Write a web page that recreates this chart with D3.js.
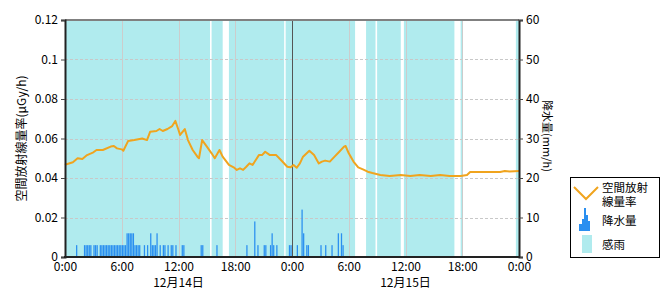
<!DOCTYPE html>
<html>
<head>
<meta charset="utf-8">
<script src="https://cdn.jsdelivr.net/npm/d3@7"></script>
<style>
  body { margin: 0; background: #fff; }
  svg text { font-family: "Noto Sans CJK JP", "DejaVu Sans", sans-serif; font-size: 12px; fill: #000; }
</style>
</head>
<body>
<div id="chart"></div>
<script>
// dose rate: minutes from 12/14 0:00, μGy/h
const doseTimes = [0, 10, 50, 80, 110, 140, 180, 200, 240, 290, 310, 330, 360, 370, 400, 440, 490, 520,
  540, 580, 600, 620, 650, 680, 700, 720, 730, 760, 780, 810, 840, 850, 870, 900, 930, 950, 980,
  1000, 1040, 1070, 1090, 1110, 1130, 1150, 1170, 1190, 1230, 1250, 1270, 1300, 1340, 1370, 1410,
  1430, 1450, 1470, 1490, 1510, 1550, 1580, 1610, 1630, 1650, 1680, 1710, 1740, 1770, 1780, 1800,
  1830, 1860, 1890, 1920, 1950, 2000, 2060, 2130, 2190, 2250, 2320, 2380, 2440, 2510, 2550, 2570,
  2630, 2700, 2760, 2790, 2820, 2880];
const doseValues = [0.0466, 0.047, 0.048, 0.050, 0.0496, 0.0516, 0.053, 0.0542, 0.0542, 0.0559, 0.0562, 0.055, 0.0545, 0.0538, 0.0587, 0.0592, 0.060, 0.0592,
  0.0634, 0.0638, 0.0648, 0.0638, 0.0648, 0.0663, 0.0689, 0.0643, 0.0618, 0.0648, 0.0592, 0.0542, 0.0508, 0.050, 0.0592, 0.0559, 0.0525, 0.050, 0.0542,
  0.0508, 0.0466, 0.0454, 0.0441, 0.0449, 0.0441, 0.0457, 0.0474, 0.0466, 0.0516, 0.0516, 0.0533, 0.0516, 0.0516, 0.0491, 0.0457,
  0.0454, 0.0466, 0.0452, 0.0474, 0.0508, 0.0538, 0.0516, 0.0474, 0.0483, 0.0488, 0.0483, 0.0508, 0.0533, 0.0559, 0.0562, 0.0525,
  0.0483, 0.0454, 0.0444, 0.0432, 0.0425, 0.0415, 0.041, 0.0415, 0.041, 0.0415, 0.041, 0.0415, 0.041, 0.041, 0.0415, 0.043,
  0.043, 0.043, 0.043, 0.0435, 0.0433, 0.0435];

// precipitation: 10-minute slot index from 12/14 0:00, mm/h
const rainSlots = [7, 12, 13, 14, 15, 16, 18, 19, 20, 22, 23, 24, 25, 26, 27, 28, 29, 30, 31, 32, 33, 34, 35, 36,
  37, 38, 39, 40, 41, 42, 43, 44, 45, 46, 47, 50, 52, 54, 55, 56, 57, 58, 60, 62, 63, 65, 67, 68, 70, 74, 75,
  86, 87, 96, 115, 120, 122, 126, 127, 130, 131, 132, 134, 142, 143, 147, 150, 151, 153, 154,
  162, 165, 169, 173, 175, 176];
const rainValues = [3, 3, 3, 3, 3, 3, 3, 3, 3, 3, 3, 3, 3, 3, 3, 3, 3, 3, 3, 3, 3, 3, 3, 3,
  3, 3, 6, 6, 6, 6, 6, 3, 3, 3, 3, 3, 3, 6, 3, 3, 3, 6, 3, 3, 3, 3, 3, 3, 3, 3, 3,
  3, 3, 3, 3, 9, 3, 3, 3, 3, 6, 3, 3, 3, 3, 3, 12, 6, 3, 3,
  3, 3, 3, 6, 6, 3];

// rain sensor on: [start, end] in hours from 12/14 0:00
const senseStart = [0, 15.5, 17.33, 23.33, 31.83, 33.0, 35.83, 41.83, 47.67];
const senseEnd   = [15.33, 16.67, 23.17, 30.67, 32.83, 35.5, 41.17, 42.0, 48];

const xTickHours = [0, 6, 12, 18, 24, 30, 36, 42, 48];
const dateLabels = ["12月14日", "12月15日"];
const dateHours = [12, 36];
const leftTicks = [0, 0.02, 0.04, 0.06, 0.08, 0.1, 0.12];
const rightTicks = [0, 10, 20, 30, 40, 50, 60];

const W = 670, H = 300;
const plotL = 65, plotR = 519, plotT = 20, plotB = 257;

const svg = d3.select("#chart").append("svg")
    .attr("width", W)
    .attr("height", H);

const x = d3.scaleLinear().domain([0, 48]).range([plotL, plotR]);
const yL = d3.scaleLinear().domain([0, 0.12]).range([plotB, plotT]);
const yR = d3.scaleLinear().domain([0, 60]).range([plotB, plotT]);

const cyan = "#b0ebee";
const orange = "#f0a41e";
const blue = "#2a8ff0";

// sensing background
svg.append("g").selectAll("rect")
    .data(senseStart.map((s, i) => [s, senseEnd[i]]))
    .join("rect")
    .attr("x", d => x(d[0]))
    .attr("width", d => x(d[1]) - x(d[0]))
    .attr("y", plotT)
    .attr("height", plotB - plotT)
    .attr("fill", cyan);

// grid
svg.append("g").selectAll("line")
    .data(leftTicks.slice(1, -1))
    .join("line")
    .attr("x1", plotL).attr("x2", plotR)
    .attr("y1", d => Math.round(yL(d)) + 0.5).attr("y2", d => Math.round(yL(d)) + 0.5)
    .attr("stroke", "#c8c8c8")
    .attr("stroke-dasharray", "3,2");

svg.append("g").selectAll("line")
    .data(xTickHours.filter(h => h > 0 && h < 48 && h !== 24))
    .join("line")
    .attr("x1", d => Math.round(x(d)) + 0.5).attr("x2", d => Math.round(x(d)) + 0.5)
    .attr("y1", plotT).attr("y2", plotB)
    .attr("stroke", "#cccccc");

// day separator
svg.append("line")
    .attr("x1", Math.round(x(24)) + 0.5).attr("x2", Math.round(x(24)) + 0.5)
    .attr("y1", plotT).attr("y2", plotB)
    .attr("stroke", "#555");

// rain bars
const slotW = x(1 / 6) - x(0);
svg.append("g").selectAll("rect")
    .data(rainSlots.map((s, i) => [s, rainValues[i]]))
    .join("rect")
    .attr("x", d => x(d[0] / 6))
    .attr("width", slotW * 0.8)
    .attr("y", d => yR(d[1]))
    .attr("height", d => plotB - yR(d[1]))
    .attr("fill", blue);

// dose line
const line = d3.line()
    .x(d => x(d[0] / 60))
    .y(d => yL(d[1]));
svg.append("path")
    .datum(doseTimes.map((t, i) => [t, doseValues[i]]))
    .attr("d", line)
    .attr("fill", "none")
    .attr("stroke", orange)
    .attr("stroke-width", 2)
    .attr("stroke-linejoin", "round");

// frame
svg.append("line")
    .attr("x1", plotL).attr("x2", plotR).attr("y1", plotT).attr("y2", plotT)
    .attr("stroke", "#808080").attr("stroke-width", 2);

// axes
const axisL = svg.append("g")
    .attr("transform", `translate(${plotL},0)`)
    .call(d3.axisLeft(yL).tickValues(leftTicks).tickFormat(d => d === 0 ? "0" : String(d)).tickSize(4).tickPadding(3));
const axisR = svg.append("g")
    .attr("transform", `translate(${plotR},0)`)
    .call(d3.axisRight(yR).tickValues(rightTicks).tickSize(4).tickPadding(3));
const axisB = svg.append("g")
    .attr("transform", `translate(0,${plotB})`)
    .call(d3.axisBottom(x).tickValues(xTickHours).tickFormat(h => (h % 24) + ":00").tickSize(0).tickPadding(5));

[axisL, axisR, axisB].forEach(a => {
    a.select(".domain").attr("stroke", "#222").attr("stroke-width", 2);
    a.selectAll(".tick line").attr("stroke", "#444");
    a.selectAll("text").attr("fill", "#000").style("font-size", "12px");
});
axisB.select(".domain").attr("d", `M${plotL - 1},0H${plotR + 1}`);

svg.append("g").selectAll("text")
    .data(dateLabels)
    .join("text")
    .attr("x", (d, i) => x(dateHours[i]))
    .attr("y", 287)
    .attr("text-anchor", "middle")
    .text(d => d);

// axis titles
svg.append("text")
    .attr("transform", `translate(26,${(plotT + plotB) / 2}) rotate(-90)`)
    .attr("text-anchor", "middle")
    .text("空間放射線量率(μGy/h)");
svg.append("text")
    .attr("transform", `translate(543,${136}) rotate(90)`)
    .attr("text-anchor", "middle")
    .style("font-size", "11px")
    .text("降水量(mm/h)");

// legend
const lg = svg.append("g").attr("transform", "translate(570,177)");
lg.append("rect")
    .attr("x", 0.5).attr("y", 0.5).attr("width", 89).attr("height", 80)
    .attr("fill", "#fff").attr("stroke", "#000");
lg.append("path")
    .attr("d", "M4,10 L16,22 L28,10")
    .attr("fill", "none").attr("stroke", orange).attr("stroke-width", 2);
lg.append("text").attr("x", 32).attr("y", 15).style("font-size", "11.5px").text("空間放射");
lg.append("text").attr("x", 32).attr("y", 29).style("font-size", "11.5px").text("線量率");
lg.append("path")
    .attr("d", "M9,54 V47 H12 V42 H14 V31 H16 V38 H18 V44 H20 V54 Z")
    .attr("fill", blue);
lg.append("text").attr("x", 32).attr("y", 48).style("font-size", "11.5px").text("降水量");
lg.append("rect")
    .attr("x", 12).attr("y", 58).attr("width", 10).attr("height", 18)
    .attr("fill", cyan);
lg.append("text").attr("x", 32).attr("y", 72).style("font-size", "11.5px").text("感雨");
</script>
</body>
</html>
